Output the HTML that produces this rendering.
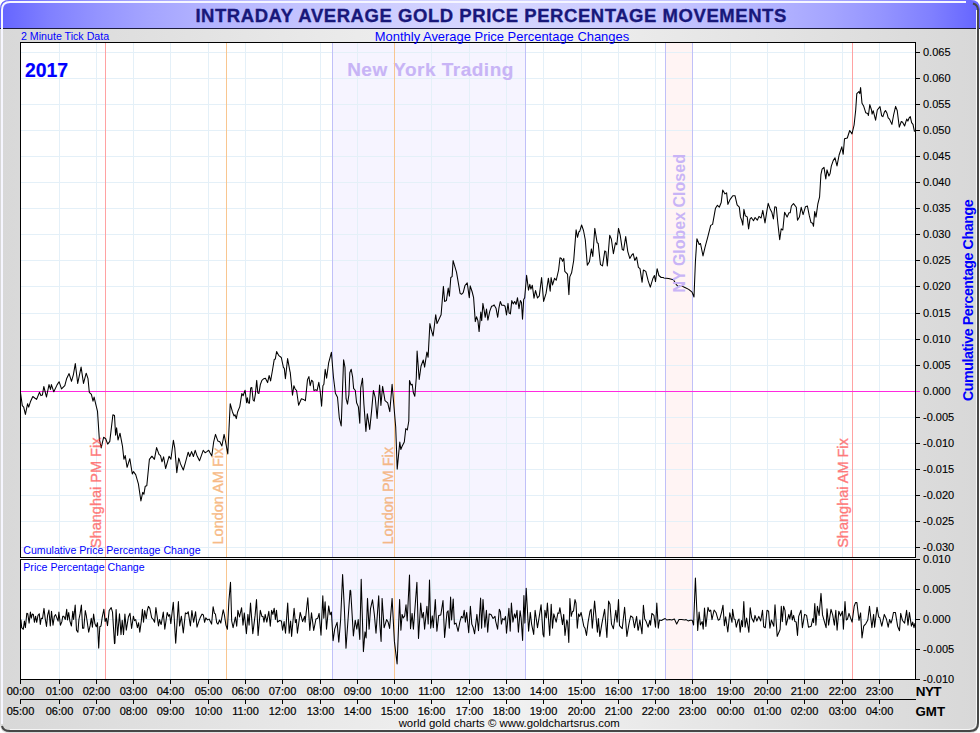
<!DOCTYPE html><html><head><meta charset="utf-8"><style>html,body{margin:0;padding:0;background:#fff;width:980px;height:733px;overflow:hidden;position:relative}</style></head><body><svg width="980" height="733" viewBox="0 0 980 733" style="position:absolute;left:0;top:0"><defs><linearGradient id="tg" x1="0" x2="1" y1="0" y2="0"><stop offset="0" stop-color="rgb(100,100,255)"/><stop offset="0.05" stop-color="rgb(128,128,255)"/><stop offset="0.1" stop-color="rgb(148,148,255)"/><stop offset="0.15" stop-color="rgb(164,164,255)"/><stop offset="0.2" stop-color="rgb(176,176,255)"/><stop offset="0.3" stop-color="rgb(194,194,255)"/><stop offset="0.4" stop-color="rgb(206,206,255)"/><stop offset="0.5" stop-color="rgb(216,216,255)"/><stop offset="0.6" stop-color="rgb(206,206,255)"/><stop offset="0.7" stop-color="rgb(194,194,255)"/><stop offset="0.8" stop-color="rgb(176,176,255)"/><stop offset="0.85" stop-color="rgb(164,164,255)"/><stop offset="0.9" stop-color="rgb(148,148,255)"/><stop offset="0.95" stop-color="rgb(128,128,255)"/><stop offset="1" stop-color="rgb(100,100,255)"/></linearGradient><linearGradient id="bg" x1="0" x2="1" y1="0" y2="0"><stop offset="0" stop-color="#d8d8d8"/><stop offset="0.5" stop-color="#f2f2f2"/><stop offset="1" stop-color="#d8d8d8"/></linearGradient></defs><path d="M9,0 H970 Q979,0 979,9 V724 Q979,733 970,733 H9 Q0,733 0,724 V9 Q0,0 9,0 Z" fill="url(#bg)"/><path d="M9,0 H971 Q980,0 980,9 V29 H0 V9 Q0,0 9,0 Z" fill="url(#tg)"/><rect x="0" y="28" width="980" height="1" fill="#1c1c3c"/><path d="M2,724 V10 Q2,2 10,2 H966" fill="none" stroke="#f6f6ff" stroke-width="2"/><path d="M976.5,10 V721 Q976.5,729.5 968,729.5 H10" fill="none" stroke="#f6f6f6" stroke-width="1"/><path d="M973,3.5 Q978,5 978,10 V723 Q978,731 970,731 H10 Q3,731 2,726" fill="none" stroke="#474747" stroke-width="2"/><text x="491.1" y="21.9" text-anchor="middle" font-family="Liberation Sans" font-weight="bold" font-size="18.5" letter-spacing="0.55" fill="#18187a" stroke="#18187a" stroke-width="0.35">INTRADAY AVERAGE GOLD PRICE PERCENTAGE MOVEMENTS</text><text x="21" y="39.5" font-family="Liberation Sans" font-size="10.65" fill="#0000ff">2 Minute Tick Data</text><rect x="20" y="42" width="895" height="515" fill="#ffffff"/><rect x="20" y="559" width="895" height="120" fill="#ffffff"/><rect x="20" y="557" width="896" height="2" fill="#f0f0f0"/><rect x="332" y="42" width="193" height="515" fill="#f6f4ff"/><rect x="332" y="559" width="193" height="120" fill="#f6f4ff"/><rect x="665" y="42" width="27" height="515" fill="#fff4f4"/><rect x="665" y="559" width="27" height="120" fill="#fff4f4"/><path d="M59.5,42V557M59.5,559V679M96.5,42V557M96.5,559V679M133.5,42V557M133.5,559V679M170.5,42V557M170.5,559V679M208.5,42V557M208.5,559V679M245.5,42V557M245.5,559V679M282.5,42V557M282.5,559V679M320.5,42V557M320.5,559V679M357.5,42V557M357.5,559V679M394.5,42V557M394.5,559V679M431.5,42V557M431.5,559V679M469.5,42V557M469.5,559V679M506.5,42V557M506.5,559V679M543.5,42V557M543.5,559V679M581.5,42V557M581.5,559V679M618.5,42V557M618.5,559V679M655.5,42V557M655.5,559V679M692.5,42V557M692.5,559V679M730.5,42V557M730.5,559V679M767.5,42V557M767.5,559V679M804.5,42V557M804.5,559V679M842.5,42V557M842.5,559V679M879.5,42V557M879.5,559V679M20,52.5H915M20,78.5H915M20,104.5H915M20,130.5H915M20,156.5H915M20,182.5H915M20,208.5H915M20,234.5H915M20,260.5H915M20,286.5H915M20,313.5H915M20,339.5H915M20,365.5H915M20,417.5H915M20,443.5H915M20,469.5H915M20,495.5H915M20,521.5H915M20,547.5H915M20,589.5H915M20,619.5H915M20,649.5H915" stroke="#e4f0f8" stroke-width="1" fill="none" shape-rendering="crispEdges"/><path d="M332.5,42V557M525.5,42V557M332.5,559V679M525.5,559V679" stroke="#c0c0f8" stroke-width="1" shape-rendering="crispEdges"/><path d="M665.5,42V557M692.5,42V557M665.5,559V679M692.5,559V679" stroke="#c0c0f8" stroke-width="1" shape-rendering="crispEdges"/><text x="430.5" y="76" text-anchor="middle" font-family="Liberation Sans" font-weight="bold" font-size="19" letter-spacing="0.5" fill="#c8b4f6" stroke="#c8b4f6" stroke-width="0.15">New York Trading</text><path d="M105.5,42V557M105.5,559V679" stroke="#ffa2a2" stroke-width="1" shape-rendering="crispEdges"/><path d="M226.5,42V557M226.5,559V679" stroke="#f8c690" stroke-width="1" shape-rendering="crispEdges"/><path d="M394.5,42V557M394.5,559V679" stroke="#f8c690" stroke-width="1" shape-rendering="crispEdges"/><path d="M852.5,42V557M852.5,559V679" stroke="#ffa2a2" stroke-width="1" shape-rendering="crispEdges"/><path d="M20,391.5H915" stroke="#ff2ae0" stroke-width="1" shape-rendering="crispEdges"/><polyline points="20.4,391.8 22.3,405.6 23.7,407.1 25.4,414.4 27.6,403.7 28.7,407.1 30.4,401.8 32.8,396.5 34.7,398.0 36.6,399.4 39.5,392.2 40.9,395.6 42.4,395.1 43.8,386.5 46.5,397.0 49.0,384.6 50.5,389.4 51.4,384.6 53.8,391.8 57.2,384.6 59.1,381.7 61.5,388.9 64.8,385.6 66.7,378.4 69.1,373.6 71.5,381.3 73.4,374.6 75.3,363.6 77.7,383.2 77.7,383.4 81.1,367.1 83.5,383.4 86.2,373.2 88.0,378.6 89.3,392.3 91.4,394.3 93.0,401.2 94.1,397.1 95.5,403.2 97.5,411.4 99.3,438.7 101.2,447.9 103.6,437.3 105.7,438.7 107.7,444.1 109.8,441.4 112.9,414.8 114.5,415.5 115.6,435.3 116.6,427.8 118.0,440.0 120.0,433.2 122.5,446.4 123.9,459.3 125.2,455.6 127.1,467.3 129.8,458.7 132.3,474.0 133.5,471.6 135.7,474.6 138.4,483.9 140.9,501.0 142.7,492.4 143.9,494.3 145.2,486.3 146.8,485.7 149.4,459.3 151.9,456.2 154.4,459.3 156.6,447.6 159.0,454.4 160.5,455.6 162.0,461.8 163.6,456.8 165.6,468.5 169.1,456.2 170.9,459.3 173.4,440.3 174.8,448.2 176.8,472.8 178.7,458.1 179.3,459.6 180.5,463.9 183.3,470.0 185.4,462.6 188.2,452.2 189.7,456.5 191.6,451.6 193.4,456.5 195.2,450.3 196.8,455.2 199.5,460.8 203.2,450.3 205.1,452.8 206.9,451.6 208.7,450.3 210.0,452.8 211.8,455.9 213.7,441.8 215.5,434.4 217.9,441.1 219.8,441.8 221.9,446.0 224.1,434.4 225.6,441.8 227.8,454.0 230.2,403.7 232.4,411.7 234.1,416.0 235.0,414.7 236.3,418.6 237.6,412.0 239.8,406.6 241.8,393.5 243.1,395.7 245.1,390.2 246.6,402.8 247.4,397.8 248.3,402.8 249.4,403.3 250.7,388.0 251.8,387.5 253.1,400.0 254.2,401.1 255.3,394.6 256.7,380.4 257.8,392.9 258.9,393.5 260.3,384.8 261.9,380.4 263.8,378.7 265.4,378.2 267.6,382.6 269.1,375.5 270.6,380.9 272.6,369.5 274.2,359.6 275.3,359.1 276.6,351.5 278.6,355.3 281.3,357.5 283.4,367.3 284.3,368.4 285.4,378.7 287.6,358.6 290.0,371.6 290.2,372.1 292.5,395.2 293.9,385.7 295.2,389.1 296.6,390.5 298.6,405.2 301.4,398.7 303.4,399.4 305.4,400.7 307.5,379.6 308.9,376.6 310.2,385.7 311.6,380.2 312.9,381.6 313.9,390.5 315.7,389.8 317.1,390.5 318.8,382.3 320.2,391.2 321.6,406.2 322.9,385.7 323.9,384.3 325.2,369.3 326.6,378.2 328.6,363.2 331.4,352.3 333.4,376.8 335.4,393.2 337.5,397.3 339.3,417.8 341.2,425.9 343.6,359.8 345.0,367.3 345.2,375.5 346.1,398.7 347.5,404.1 348.9,394.6 349.8,372.7 351.2,369.3 352.6,376.8 353.6,388.4 355.3,390.5 356.6,402.8 358.4,406.9 359.8,423.2 360.7,387.8 362.5,378.2 363.9,404.1 365.9,431.4 367.3,413.7 369.7,429.4 371.6,410.9 373.4,390.5 375.2,397.3 377.1,418.4 379.6,385.0 380.9,405.5 382.6,386.4 385.0,400.7 387.7,402.8 389.8,411.6 392.1,384.3 393.8,404.5 395.7,427.0 397.2,469.1 399.8,442.0 400.8,449.5 402.0,446.5 404.3,442.0 405.8,428.5 407.3,430.0 408.8,421.0 409.5,380.5 411.0,385.0 412.2,384.3 413.3,392.5 414.8,396.3 416.3,377.5 417.1,351.1 419.2,379.5 421.0,366.2 423.3,360.0 424.6,367.1 426.9,352.0 428.1,357.3 429.9,323.6 431.3,329.8 433.1,336.0 435.7,314.7 437.0,323.6 441.1,314.7 443.4,286.4 444.6,301.4 446.4,300.6 448.2,288.1 449.4,296.1 450.8,277.5 452.1,276.6 453.1,260.6 456.5,272.2 460.1,293.4 461.5,294.3 463.2,292.6 465.0,285.5 467.2,282.8 469.3,297.7 470.2,285.8 472.2,292.0 473.6,297.7 475.3,321.6 476.5,316.8 477.9,320.6 479.1,331.6 480.8,312.0 481.7,320.6 482.9,303.4 484.1,310.1 485.2,317.3 486.5,309.1 487.9,320.1 489.8,311.1 491.6,306.3 493.2,305.8 494.1,304.9 496.0,308.2 497.7,317.3 498.9,308.2 500.3,301.5 501.8,305.3 503.7,305.3 505.1,306.3 506.5,314.9 508.0,303.4 509.1,313.0 510.4,313.9 511.8,300.6 513.2,303.9 514.7,301.5 516.1,304.4 517.5,297.7 519.0,308.7 520.4,300.6 521.5,302.5 522.5,319.2 523.7,299.6 524.7,297.7 526.6,275.2 528.5,290.1 529.8,284.3 530.9,289.1 532.3,285.3 534.0,298.2 535.5,290.5 537.5,298.0 539.3,295.9 541.6,277.5 543.6,301.4 546.1,293.2 548.4,278.2 550.2,291.2 551.1,277.5 552.5,285.0 554.6,278.2 556.2,280.3 558.6,270.0 560.0,257.8 561.4,258.4 562.5,261.2 563.8,258.4 564.8,271.4 567.5,274.1 568.9,294.6 569.8,276.9 571.6,272.8 573.7,260.5 576.1,229.8 577.5,237.3 578.9,231.8 579.8,231.2 581.6,225.0 583.5,230.5 585.3,240.0 587.3,265.2 589.4,261.8 591.4,248.9 592.8,256.4 594.8,228.4 597.1,242.7 598.2,243.4 600.0,260.5 600.5,264.6 602.5,265.9 604.8,250.9 605.9,251.6 607.3,265.9 609.7,235.2 611.4,239.3 613.4,253.7 615.5,242.7 616.8,244.8 618.5,228.4 620.2,235.2 622.3,249.6 623.6,250.2 625.7,236.6 627.8,251.6 629.8,258.4 631.8,255.0 633.2,253.7 634.8,260.5 636.6,257.1 638.4,267.3 640.0,268.7 642.1,282.3 643.4,270.0 645.8,271.4 648.2,280.9 650.3,287.1 653.0,278.2 654.4,275.5 655.5,281.6 657.1,268.7 658.9,275.5 661.2,277.5 663.2,277.5 663.8,277.9 668.6,278.5 673.4,279.8 676.3,284.6 678.2,286.5 681.0,285.6 684.9,287.5 688.7,289.4 692.1,292.2 694.0,297.0 695.4,261.7 696.9,238.8 699.2,244.5 700.5,243.5 703.0,255.9 705.0,247.3 707.8,236.8 710.7,225.4 712.6,224.4 715.5,208.2 717.4,205.3 719.3,207.2 721.2,202.5 722.7,190.1 725.0,193.9 726.6,192.9 727.9,204.4 730.0,199.6 732.8,195.7 735.0,195.7 737.1,204.9 739.3,207.1 740.4,216.9 741.7,220.2 742.8,225.1 743.9,209.3 745.3,215.8 747.2,216.9 748.6,228.9 750.0,219.1 751.3,217.5 753.5,220.8 755.1,217.5 757.3,220.2 759.0,216.4 761.1,218.0 762.8,210.4 765.0,222.9 766.6,212.6 768.2,203.3 770.0,208.7 771.8,212.2 773.4,218.9 774.8,206.7 776.3,207.3 777.9,223.8 779.7,239.8 781.2,228.8 782.8,230.0 784.6,212.2 787.1,217.1 789.0,212.8 790.2,212.8 791.4,206.0 793.5,203.6 796.3,207.3 797.5,220.2 799.4,217.1 801.2,207.3 803.1,214.6 805.5,206.7 807.4,206.0 809.2,215.2 811.0,222.6 812.6,223.2 813.5,226.3 814.7,211.6 816.0,217.1 817.8,204.2 819.6,196.8 820.9,174.7 822.1,169.2 824.0,167.4 825.8,179.0 827.0,169.8 828.9,176.0 830.1,173.5 831.3,166.1 833.2,160.6 835.0,157.8 837.0,165.9 839.1,155.0 841.8,146.8 843.2,154.3 844.5,138.7 847.3,138.0 849.7,130.5 852.0,133.9 854.1,125.0 855.7,110.0 856.8,93.6 858.9,91.6 859.8,93.6 860.6,87.5 862.0,103.2 863.6,105.9 865.7,112.7 867.7,113.4 868.4,115.5 869.8,104.6 871.5,110.0 872.1,114.1 873.2,110.7 875.6,120.2 877.3,110.0 880.0,106.6 881.7,115.8 882.9,116.6 884.4,112.1 885.5,110.5 887.0,113.3 888.2,117.8 889.5,119.1 891.9,124.4 893.6,115.0 895.6,106.4 897.2,110.5 899.3,127.2 901.3,121.5 902.6,122.3 904.6,126.0 906.7,119.1 907.9,121.1 909.0,118.2 910.3,116.6 911.6,122.7 913.0,124.4 914.4,131.3 915.0,130.5" fill="none" stroke="#000" stroke-width="1.05" stroke-linejoin="round"/><polyline points="20.9,619.5 21.7,627.6 23.3,629.3 24.4,621.1 25.4,627.6 26.8,613.3 27.8,613.7 29.1,623.1 30.4,612.1 31.3,618.2 32.3,614.1 33.4,614.6 34.4,622.3 35.6,616.2 36.7,622.3 38.0,615.4 39.3,613.7 40.3,624.4 41.3,618.2 42.5,618.6 44.0,608.4 45.2,618.6 46.5,626.4 47.6,615.4 48.9,610.0 50.3,626.0 51.5,611.3 53.0,625.2 54.4,616.2 55.6,614.6 57.1,618.6 58.1,621.1 58.9,612.1 60.4,625.2 61.8,621.9 62.8,616.2 63.8,616.2 65.3,619.5 66.7,609.2 67.5,619.9 68.7,612.5 69.9,621.1 71.4,626.0 72.8,611.3 73.6,619.5 75.2,605.1 76.5,630.1 77.9,632.2 78.9,619.5 80.1,613.7 81.4,605.1 82.6,628.1 83.8,628.1 85.3,610.5 86.4,616.2 88.7,632.2 90.2,625.2 91.3,618.2 92.4,627.2 93.6,614.1 94.9,623.6 96.3,626.8 97.5,622.7 98.7,648.1 99.8,626.8 101.0,626.0 102.2,617.4 103.9,609.2 105.1,621.5 106.3,618.2 107.5,625.6 109.2,610.5 111.2,607.6 112.5,612.1 114.5,643.6 114.9,643.2 116.1,609.6 117.6,635.4 119.5,613.7 121.0,634.6 122.2,620.3 123.5,634.6 124.9,614.1 126.3,630.1 128.4,617.0 130.0,613.3 131.6,628.5 133.4,616.2 134.5,620.7 135.7,619.5 137.4,627.6 138.6,622.7 139.8,632.2 141.3,621.1 142.4,609.2 143.5,622.3 144.7,610.5 146.2,618.6 147.3,610.5 148.4,606.4 149.8,608.4 151.7,617.8 153.3,619.5 154.6,622.3 155.9,607.6 157.0,615.4 158.5,626.0 159.5,619.5 160.7,623.6 161.2,624.4 163.3,612.1 164.8,629.3 167.2,612.5 168.6,616.2 169.7,614.6 170.8,623.6 173.3,602.3 175.7,643.2 178.4,601.5 179.6,626.0 181.4,616.2 183.3,633.0 185.4,612.9 187.0,613.7 188.2,611.7 190.4,626.0 191.9,610.5 193.6,622.3 195.6,611.7 197.0,627.2 198.9,621.1 200.5,617.0 202.1,614.1 203.4,615.0 204.6,622.3 205.8,617.8 207.5,619.9 209.1,619.1 209.6,620.0 211.6,624.1 213.1,606.7 214.4,613.4 215.4,613.9 216.7,622.6 218.0,624.1 219.5,620.0 220.8,623.1 223.2,609.8 224.4,614.9 225.9,625.1 227.4,629.2 229.0,599.6 230.5,582.2 231.7,621.0 233.1,627.7 235.4,617.0 236.7,626.2 237.9,610.3 239.5,617.0 241.6,607.7 243.0,625.1 244.3,612.9 246.4,633.8 247.9,614.4 249.1,625.1 250.5,603.1 252.8,633.8 255.1,615.4 256.5,599.6 258.1,635.4 260.3,610.3 261.9,616.4 263.0,616.4 264.0,622.1 265.2,614.4 266.8,622.1 268.8,611.3 270.3,626.2 271.6,610.3 272.9,614.4 274.2,608.2 275.4,619.5 276.5,610.3 277.5,622.1 279.5,620.5 281.4,621.0 282.6,630.2 284.1,621.6 285.5,633.3 287.7,603.1 289.2,633.3 290.6,621.0 291.6,636.4 294.1,608.2 295.4,622.6 296.4,619.5 297.4,633.3 300.2,612.4 302.6,621.6 304.6,616.4 305.1,622.3 307.8,597.7 309.8,630.5 311.5,612.8 313.7,630.5 316.0,618.9 317.8,618.2 319.1,613.4 321.0,635.3 322.8,595.7 323.8,618.2 325.1,601.8 326.5,629.1 328.7,605.9 330.1,614.8 331.4,612.1 333.1,640.7 334.7,629.1 337.1,622.3 338.8,642.1 340.6,620.2 342.6,574.5 344.3,607.3 346.0,648.2 350.1,590.2 350.7,590.9 353.4,635.9 355.2,620.2 356.8,629.1 358.2,619.6 359.8,639.4 361.2,579.3 363.4,651.6 365.0,631.9 366.1,638.0 367.5,598.4 369.1,629.1 370.5,608.7 372.5,599.8 374.3,614.1 376.0,633.2 378.7,595.7 379.8,623.7 381.1,641.4 382.1,598.4 384.1,627.8 386.6,619.6 388.2,622.3 389.6,628.4 392.1,598.4 394.4,641.4 397.1,663.9 399.6,599.6 400.9,630.2 402.1,614.4 403.3,618.0 404.7,615.9 406.0,604.7 407.2,621.0 409.5,575.0 410.5,628.7 412.1,613.4 413.4,629.2 416.9,582.2 418.5,638.4 420.7,603.1 422.1,618.0 423.4,612.4 424.6,629.2 426.9,606.2 428.2,624.1 429.5,580.1 430.7,628.2 432.3,615.9 433.3,627.7 435.3,599.6 436.9,631.3 438.7,615.4 440.8,614.9 443.0,600.6 444.6,637.4 447.0,612.4 448.1,610.8 449.3,628.2 450.6,597.0 451.6,620.0 453.2,599.0 454.4,624.1 456.0,623.1 458.1,631.3 459.8,622.1 461.4,616.4 462.9,618.0 464.2,610.3 465.4,622.1 466.7,612.4 468.7,632.8 470.4,606.2 471.8,624.1 473.1,627.2 474.6,633.8 476.9,614.4 478.5,630.8 480.6,598.0 481.6,628.2 483.0,599.6 484.9,627.2 486.4,610.3 487.7,632.3 489.2,613.9 491.0,614.4 493.1,618.5 495.0,616.4 495.6,621.0 497.6,629.2 499.3,609.3 500.4,611.8 501.4,624.1 502.7,618.5 504.2,620.0 505.5,616.4 506.5,633.3 508.9,608.2 510.2,631.3 511.4,603.1 512.9,622.1 514.5,613.9 515.7,618.0 517.0,610.3 518.4,632.3 520.1,610.8 521.1,618.0 522.6,640.5 523.9,595.5 524.9,623.1 526.2,588.3 528.6,631.3 530.3,612.4 531.6,624.1 533.7,634.4 535.1,610.3 537.5,627.7 541.1,604.7 543.0,634.4 543.9,636.9 544.9,610.3 546.3,618.0 547.4,603.1 549.7,635.4 551.2,604.2 552.5,628.2 553.8,613.9 556.2,622.1 557.9,612.9 558.9,613.4 559.9,607.7 562.5,624.6 563.7,614.4 565.0,635.4 566.8,620.0 567.6,622.1 568.8,642.5 569.9,598.5 571.2,616.4 572.5,611.3 573.5,611.3 575.0,599.6 576.0,603.1 577.3,628.2 578.6,613.9 579.7,616.4 581.1,612.4 583.8,626.2 585.0,628.2 586.5,635.4 588.1,622.1 590.0,611.3 591.1,609.3 592.3,628.2 594.6,601.1 597.4,632.3 598.4,618.5 599.8,636.4 601.8,624.1 604.6,609.3 606.9,637.4 608.6,601.1 610.0,604.2 611.5,624.1 613.4,628.7 615.8,610.3 617.1,622.1 618.5,599.6 619.5,625.6 622.2,628.7 624.6,607.2 626.9,636.4 628.9,624.1 630.7,615.9 632.8,617.5 634.5,627.7 636.6,616.4 638.0,630.2 638.3,630.2 639.9,620.0 642.0,633.8 643.4,605.2 644.7,619.0 646.2,621.6 648.1,627.2 649.8,620.5 650.5,625.1 651.9,613.4 653.9,615.4 655.5,627.2 656.8,603.1 658.3,628.2 659.5,620.0 661.4,620.5 663.1,619.5 665.2,618.5 666.7,620.0 669.8,619.5 671.8,620.0 674.4,619.0 676.7,624.1 679.0,619.5 681.5,619.5 685.0,620.0 686.1,619.6 688.1,620.9 690.2,620.2 692.2,620.2 693.6,625.0 695.4,578.0 697.7,630.5 699.1,612.1 700.4,625.0 702.2,621.6 703.2,629.1 704.5,608.0 705.9,626.4 708.0,607.3 709.3,611.4 710.7,610.0 712.0,619.6 714.1,610.0 716.1,612.8 718.2,620.2 719.6,619.6 721.6,612.1 723.0,605.2 724.4,625.7 725.7,616.8 727.8,631.9 729.8,612.8 732.0,622.3 732.6,609.3 734.1,619.0 735.1,619.5 736.3,627.2 738.0,620.5 739.0,619.0 740.2,632.3 741.5,620.5 742.5,626.7 743.8,601.6 745.1,627.2 746.6,618.0 748.9,632.3 750.2,607.7 751.7,618.0 753.7,622.1 755.0,615.4 756.8,621.0 758.8,616.4 760.7,621.0 762.5,610.3 763.7,626.7 765.3,627.7 767.0,610.3 768.6,611.3 769.9,628.2 771.4,620.0 773.8,626.2 775.0,604.7 777.2,636.4 780.0,629.7 780.1,629.2 781.3,606.2 782.3,621.6 783.6,606.2 785.0,610.3 786.2,625.1 787.7,619.0 788.8,614.4 789.8,619.0 791.3,610.3 792.3,620.0 793.6,615.4 794.9,621.6 796.2,622.1 797.5,635.4 798.7,616.4 801.0,610.3 802.4,627.7 804.6,614.4 806.6,615.4 808.5,627.2 811.2,626.2 812.8,618.5 813.6,622.6 814.8,603.6 815.9,625.1 817.4,606.2 819.1,615.4 821.0,593.4 822.5,614.9 826.1,627.7 827.0,608.8 828.6,625.1 831.0,609.3 832.7,614.9 834.4,625.1 835.8,610.3 837.1,630.2 838.8,611.3 840.6,615.9 842.4,611.3 843.4,629.2 845.0,601.6 846.3,620.0 847.5,619.0 849.0,613.4 850.4,617.5 852.1,622.1 854.2,606.2 855.5,602.6 856.9,602.6 859.0,620.5 860.6,612.9 862.0,637.9 863.7,626.2 865.9,623.6 867.8,620.0 869.5,606.2 871.9,627.7 873.6,614.4 874.6,627.2 877.0,607.2 878.7,617.0 879.7,617.5 881.8,626.2 884.3,614.4 886.4,619.0 888.2,627.2 889.6,619.5 891.0,623.1 892.0,620.0 893.5,612.4 895.4,612.4 897.6,626.2 899.5,630.8 900.7,613.4 902.5,620.5 904.6,623.1 906.6,610.3 908.0,625.1 909.4,612.4 911.4,626.2 912.7,622.1 914.0,627.7 915.0,623.1" fill="none" stroke="#000" stroke-width="1.05" stroke-linejoin="round"/><text x="0" y="0" transform="translate(684.5,292.5) rotate(-90)" font-family="Liberation Sans" font-weight="bold" font-size="16" fill="#c8b4f6">NY Globex Closed</text><text x="25" y="76.7" font-family="Liberation Sans" font-weight="bold" font-size="19.4" fill="#0000ff" stroke="#0000ff" stroke-width="0.2">2017</text><g opacity="0.66"><text x="0" y="0" transform="translate(100.5,548) rotate(-90)" font-family="Liberation Sans" font-size="14.5" fill="#ff3838" stroke="#ff3838" stroke-width="0.35">Shanghai PM Fix</text></g><g opacity="0.66"><text x="0" y="0" transform="translate(223,544.5) rotate(-90)" font-family="Liberation Sans" font-size="14.5" fill="#f49848" stroke="#f49848" stroke-width="0.35">London AM Fix</text></g><g opacity="0.66"><text x="0" y="0" transform="translate(392.5,544.5) rotate(-90)" font-family="Liberation Sans" font-size="14.5" fill="#f49848" stroke="#f49848" stroke-width="0.35">London PM Fix</text></g><g opacity="0.66"><text x="0" y="0" transform="translate(848,547.8) rotate(-90)" font-family="Liberation Sans" font-size="14.5" fill="#ff3838" stroke="#ff3838" stroke-width="0.35">Shanghai AM Fix</text></g><text x="23.3" y="553.8" font-family="Liberation Sans" font-size="10.6" fill="#0000ff">Cumulative Price Percentage Change</text><text x="23.3" y="570.8" font-family="Liberation Sans" font-size="10.6" fill="#0000ff">Price Percentage Change</text><rect x="20.5" y="42.5" width="895" height="515" fill="none" stroke="#000" stroke-width="1" shape-rendering="crispEdges"/><rect x="20.5" y="559.5" width="895" height="120" fill="none" stroke="#000" stroke-width="1" shape-rendering="crispEdges"/><text x="502" y="41" text-anchor="middle" font-family="Liberation Sans" font-size="12.95" fill="#0000ff">Monthly Average Price Percentage Changes</text><text x="923" y="56" font-family="Liberation Sans" font-size="11" fill="#000" stroke="#000" stroke-width="0.12">0.065</text><text x="923" y="82" font-family="Liberation Sans" font-size="11" fill="#000" stroke="#000" stroke-width="0.12">0.060</text><text x="923" y="108" font-family="Liberation Sans" font-size="11" fill="#000" stroke="#000" stroke-width="0.12">0.055</text><text x="923" y="134" font-family="Liberation Sans" font-size="11" fill="#000" stroke="#000" stroke-width="0.12">0.050</text><text x="923" y="160" font-family="Liberation Sans" font-size="11" fill="#000" stroke="#000" stroke-width="0.12">0.045</text><text x="923" y="186" font-family="Liberation Sans" font-size="11" fill="#000" stroke="#000" stroke-width="0.12">0.040</text><text x="923" y="212" font-family="Liberation Sans" font-size="11" fill="#000" stroke="#000" stroke-width="0.12">0.035</text><text x="923" y="238" font-family="Liberation Sans" font-size="11" fill="#000" stroke="#000" stroke-width="0.12">0.030</text><text x="923" y="264" font-family="Liberation Sans" font-size="11" fill="#000" stroke="#000" stroke-width="0.12">0.025</text><text x="923" y="290" font-family="Liberation Sans" font-size="11" fill="#000" stroke="#000" stroke-width="0.12">0.020</text><text x="923" y="317" font-family="Liberation Sans" font-size="11" fill="#000" stroke="#000" stroke-width="0.12">0.015</text><text x="923" y="343" font-family="Liberation Sans" font-size="11" fill="#000" stroke="#000" stroke-width="0.12">0.010</text><text x="923" y="369" font-family="Liberation Sans" font-size="11" fill="#000" stroke="#000" stroke-width="0.12">0.005</text><text x="923" y="395" font-family="Liberation Sans" font-size="11" fill="#000" stroke="#000" stroke-width="0.12">0.000</text><text x="923" y="421" font-family="Liberation Sans" font-size="11" fill="#000" stroke="#000" stroke-width="0.12">-0.005</text><text x="923" y="447" font-family="Liberation Sans" font-size="11" fill="#000" stroke="#000" stroke-width="0.12">-0.010</text><text x="923" y="473" font-family="Liberation Sans" font-size="11" fill="#000" stroke="#000" stroke-width="0.12">-0.015</text><text x="923" y="499" font-family="Liberation Sans" font-size="11" fill="#000" stroke="#000" stroke-width="0.12">-0.020</text><text x="923" y="525" font-family="Liberation Sans" font-size="11" fill="#000" stroke="#000" stroke-width="0.12">-0.025</text><text x="923" y="551" font-family="Liberation Sans" font-size="11" fill="#000" stroke="#000" stroke-width="0.12">-0.030</text><text x="923" y="563" font-family="Liberation Sans" font-size="11" fill="#000" stroke="#000" stroke-width="0.12">0.010</text><text x="923" y="593" font-family="Liberation Sans" font-size="11" fill="#000" stroke="#000" stroke-width="0.12">0.005</text><text x="923" y="623" font-family="Liberation Sans" font-size="11" fill="#000" stroke="#000" stroke-width="0.12">0.000</text><text x="923" y="653" font-family="Liberation Sans" font-size="11" fill="#000" stroke="#000" stroke-width="0.12">-0.005</text><text x="923" y="683" font-family="Liberation Sans" font-size="11" fill="#000" stroke="#000" stroke-width="0.12">-0.010</text><path d="M915,52.5H920M915,78.5H920M915,104.5H920M915,130.5H920M915,156.5H920M915,182.5H920M915,208.5H920M915,234.5H920M915,260.5H920M915,286.5H920M915,313.5H920M915,339.5H920M915,365.5H920M915,417.5H920M915,443.5H920M915,469.5H920M915,495.5H920M915,521.5H920M915,547.5H920M915,559.5H920M915,589.5H920M915,619.5H920M915,649.5H920M915,679.5H920M20,699.5H916M20.5,679V684M20.5,699V704M59.5,679V684M59.5,699V704M96.5,679V684M96.5,699V704M133.5,679V684M133.5,699V704M170.5,679V684M170.5,699V704M208.5,679V684M208.5,699V704M245.5,679V684M245.5,699V704M282.5,679V684M282.5,699V704M320.5,679V684M320.5,699V704M357.5,679V684M357.5,699V704M394.5,679V684M394.5,699V704M431.5,679V684M431.5,699V704M469.5,679V684M469.5,699V704M506.5,679V684M506.5,699V704M543.5,679V684M543.5,699V704M581.5,679V684M581.5,699V704M618.5,679V684M618.5,699V704M655.5,679V684M655.5,699V704M692.5,679V684M692.5,699V704M730.5,679V684M730.5,699V704M767.5,679V684M767.5,699V704M804.5,679V684M804.5,699V704M842.5,679V684M842.5,699V704M879.5,679V684M879.5,699V704" stroke="#000" stroke-width="1" fill="none" shape-rendering="crispEdges"/><path d="M916,391.5H920" stroke="#ff2ae0" stroke-width="1" shape-rendering="crispEdges"/><text x="20.5" y="695" text-anchor="middle" font-family="Liberation Sans" font-size="11" fill="#000" stroke="#000" stroke-width="0.2">00:00</text><text x="20.5" y="715" text-anchor="middle" font-family="Liberation Sans" font-size="11" fill="#000" stroke="#000" stroke-width="0.2">05:00</text><text x="59.5" y="695" text-anchor="middle" font-family="Liberation Sans" font-size="11" fill="#000" stroke="#000" stroke-width="0.2">01:00</text><text x="59.5" y="715" text-anchor="middle" font-family="Liberation Sans" font-size="11" fill="#000" stroke="#000" stroke-width="0.2">06:00</text><text x="96.5" y="695" text-anchor="middle" font-family="Liberation Sans" font-size="11" fill="#000" stroke="#000" stroke-width="0.2">02:00</text><text x="96.5" y="715" text-anchor="middle" font-family="Liberation Sans" font-size="11" fill="#000" stroke="#000" stroke-width="0.2">07:00</text><text x="133.5" y="695" text-anchor="middle" font-family="Liberation Sans" font-size="11" fill="#000" stroke="#000" stroke-width="0.2">03:00</text><text x="133.5" y="715" text-anchor="middle" font-family="Liberation Sans" font-size="11" fill="#000" stroke="#000" stroke-width="0.2">08:00</text><text x="170.5" y="695" text-anchor="middle" font-family="Liberation Sans" font-size="11" fill="#000" stroke="#000" stroke-width="0.2">04:00</text><text x="170.5" y="715" text-anchor="middle" font-family="Liberation Sans" font-size="11" fill="#000" stroke="#000" stroke-width="0.2">09:00</text><text x="208.5" y="695" text-anchor="middle" font-family="Liberation Sans" font-size="11" fill="#000" stroke="#000" stroke-width="0.2">05:00</text><text x="208.5" y="715" text-anchor="middle" font-family="Liberation Sans" font-size="11" fill="#000" stroke="#000" stroke-width="0.2">10:00</text><text x="245.5" y="695" text-anchor="middle" font-family="Liberation Sans" font-size="11" fill="#000" stroke="#000" stroke-width="0.2">06:00</text><text x="245.5" y="715" text-anchor="middle" font-family="Liberation Sans" font-size="11" fill="#000" stroke="#000" stroke-width="0.2">11:00</text><text x="282.5" y="695" text-anchor="middle" font-family="Liberation Sans" font-size="11" fill="#000" stroke="#000" stroke-width="0.2">07:00</text><text x="282.5" y="715" text-anchor="middle" font-family="Liberation Sans" font-size="11" fill="#000" stroke="#000" stroke-width="0.2">12:00</text><text x="320.5" y="695" text-anchor="middle" font-family="Liberation Sans" font-size="11" fill="#000" stroke="#000" stroke-width="0.2">08:00</text><text x="320.5" y="715" text-anchor="middle" font-family="Liberation Sans" font-size="11" fill="#000" stroke="#000" stroke-width="0.2">13:00</text><text x="357.5" y="695" text-anchor="middle" font-family="Liberation Sans" font-size="11" fill="#000" stroke="#000" stroke-width="0.2">09:00</text><text x="357.5" y="715" text-anchor="middle" font-family="Liberation Sans" font-size="11" fill="#000" stroke="#000" stroke-width="0.2">14:00</text><text x="394.5" y="695" text-anchor="middle" font-family="Liberation Sans" font-size="11" fill="#000" stroke="#000" stroke-width="0.2">10:00</text><text x="394.5" y="715" text-anchor="middle" font-family="Liberation Sans" font-size="11" fill="#000" stroke="#000" stroke-width="0.2">15:00</text><text x="431.5" y="695" text-anchor="middle" font-family="Liberation Sans" font-size="11" fill="#000" stroke="#000" stroke-width="0.2">11:00</text><text x="431.5" y="715" text-anchor="middle" font-family="Liberation Sans" font-size="11" fill="#000" stroke="#000" stroke-width="0.2">16:00</text><text x="469.5" y="695" text-anchor="middle" font-family="Liberation Sans" font-size="11" fill="#000" stroke="#000" stroke-width="0.2">12:00</text><text x="469.5" y="715" text-anchor="middle" font-family="Liberation Sans" font-size="11" fill="#000" stroke="#000" stroke-width="0.2">17:00</text><text x="506.5" y="695" text-anchor="middle" font-family="Liberation Sans" font-size="11" fill="#000" stroke="#000" stroke-width="0.2">13:00</text><text x="506.5" y="715" text-anchor="middle" font-family="Liberation Sans" font-size="11" fill="#000" stroke="#000" stroke-width="0.2">18:00</text><text x="543.5" y="695" text-anchor="middle" font-family="Liberation Sans" font-size="11" fill="#000" stroke="#000" stroke-width="0.2">14:00</text><text x="543.5" y="715" text-anchor="middle" font-family="Liberation Sans" font-size="11" fill="#000" stroke="#000" stroke-width="0.2">19:00</text><text x="581.5" y="695" text-anchor="middle" font-family="Liberation Sans" font-size="11" fill="#000" stroke="#000" stroke-width="0.2">15:00</text><text x="581.5" y="715" text-anchor="middle" font-family="Liberation Sans" font-size="11" fill="#000" stroke="#000" stroke-width="0.2">20:00</text><text x="618.5" y="695" text-anchor="middle" font-family="Liberation Sans" font-size="11" fill="#000" stroke="#000" stroke-width="0.2">16:00</text><text x="618.5" y="715" text-anchor="middle" font-family="Liberation Sans" font-size="11" fill="#000" stroke="#000" stroke-width="0.2">21:00</text><text x="655.5" y="695" text-anchor="middle" font-family="Liberation Sans" font-size="11" fill="#000" stroke="#000" stroke-width="0.2">17:00</text><text x="655.5" y="715" text-anchor="middle" font-family="Liberation Sans" font-size="11" fill="#000" stroke="#000" stroke-width="0.2">22:00</text><text x="692.5" y="695" text-anchor="middle" font-family="Liberation Sans" font-size="11" fill="#000" stroke="#000" stroke-width="0.2">18:00</text><text x="692.5" y="715" text-anchor="middle" font-family="Liberation Sans" font-size="11" fill="#000" stroke="#000" stroke-width="0.2">23:00</text><text x="730.5" y="695" text-anchor="middle" font-family="Liberation Sans" font-size="11" fill="#000" stroke="#000" stroke-width="0.2">19:00</text><text x="730.5" y="715" text-anchor="middle" font-family="Liberation Sans" font-size="11" fill="#000" stroke="#000" stroke-width="0.2">00:00</text><text x="767.5" y="695" text-anchor="middle" font-family="Liberation Sans" font-size="11" fill="#000" stroke="#000" stroke-width="0.2">20:00</text><text x="767.5" y="715" text-anchor="middle" font-family="Liberation Sans" font-size="11" fill="#000" stroke="#000" stroke-width="0.2">01:00</text><text x="804.5" y="695" text-anchor="middle" font-family="Liberation Sans" font-size="11" fill="#000" stroke="#000" stroke-width="0.2">21:00</text><text x="804.5" y="715" text-anchor="middle" font-family="Liberation Sans" font-size="11" fill="#000" stroke="#000" stroke-width="0.2">02:00</text><text x="842.5" y="695" text-anchor="middle" font-family="Liberation Sans" font-size="11" fill="#000" stroke="#000" stroke-width="0.2">22:00</text><text x="842.5" y="715" text-anchor="middle" font-family="Liberation Sans" font-size="11" fill="#000" stroke="#000" stroke-width="0.2">03:00</text><text x="879.5" y="695" text-anchor="middle" font-family="Liberation Sans" font-size="11" fill="#000" stroke="#000" stroke-width="0.2">23:00</text><text x="879.5" y="715" text-anchor="middle" font-family="Liberation Sans" font-size="11" fill="#000" stroke="#000" stroke-width="0.2">04:00</text><text x="915.8" y="696" font-family="Liberation Sans" font-weight="bold" font-size="13.5" letter-spacing="-0.6" fill="#000">NYT</text><text x="915.5" y="716" font-family="Liberation Sans" font-weight="bold" font-size="13.3" fill="#000">GMT</text><text x="509.2" y="727" text-anchor="middle" font-family="Liberation Sans" font-size="11.4" fill="#000">world gold charts © www.goldchartsrus.com</text><text x="0" y="0" transform="translate(972.5,401) rotate(-90)" font-family="Liberation Sans" font-weight="bold" font-size="14.2" letter-spacing="-0.42" fill="#0000ff">Cumulative Percentage Change</text></svg></body></html>
